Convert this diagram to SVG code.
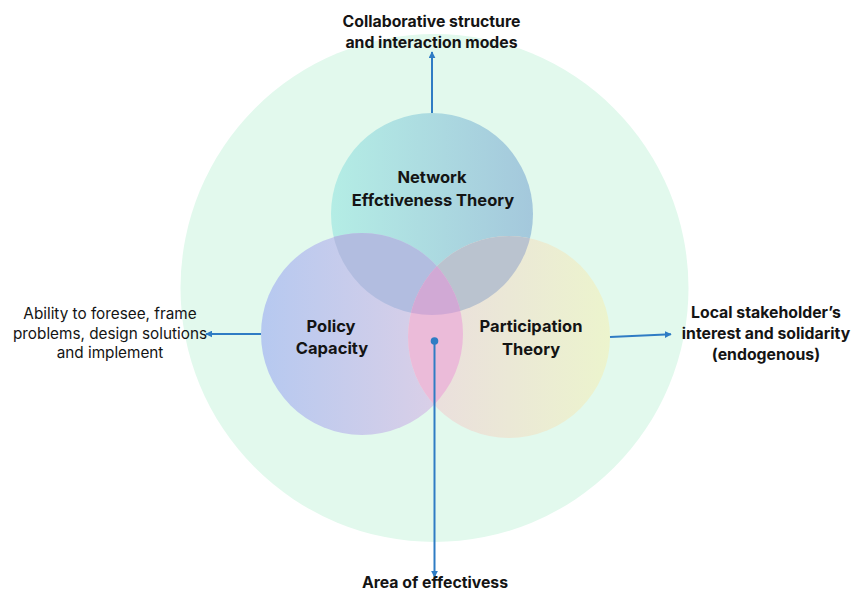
<svg xmlns="http://www.w3.org/2000/svg" width="852" height="593" viewBox="0 0 852 593">
  <style>
    .label { font-family: Inter, "Liberation Sans", sans-serif; fill: #141414; text-anchor: middle; }
    .bold { font-weight: 700; }
    .node { font-size: 16.5px; }
    .side { font-size: 15.8px; }
    .plain { font-weight: 400; font-size: 15.3px; }
    .link { stroke: #2f7cc4; stroke-width: 2; fill: none; }
  </style>
  <defs>
    <linearGradient id="gradTop" x1="0" y1="0" x2="1" y2="0">
      <stop offset="0" stop-color="#b4ede5"/>
      <stop offset="1" stop-color="#a4c8dc"/>
    </linearGradient>
    <linearGradient id="gradLeft" x1="0" y1="0" x2="1" y2="0">
      <stop offset="0" stop-color="#b6c9f0"/>
      <stop offset="1" stop-color="#dfd0e6"/>
    </linearGradient>
    <linearGradient id="gradRight" x1="0" y1="0" x2="1" y2="0">
      <stop offset="0" stop-color="#eadcdf"/>
      <stop offset="1" stop-color="#ecf4cd"/>
    </linearGradient>
    <clipPath id="clipTop"><circle cx="432" cy="214" r="101"/></clipPath>
    <clipPath id="clipLeft"><circle cx="362" cy="334" r="101"/></clipPath>
    <marker id="arrow" viewBox="0 0 10 10" refX="9" refY="5" markerWidth="7" markerHeight="7" orient="auto-start-reverse" markerUnits="userSpaceOnUse">
      <path d="M0,0 L10,5 L0,10 Z" fill="#2f7cc4"/>
    </marker>
  </defs>

  <rect width="852" height="593" fill="#ffffff"/>

  <!-- outer context circle -->
  <g id="context">
    <circle cx="434.5" cy="288" r="254" fill="#e2f9ed"/>
  </g>

  <!-- the three theory circles -->
  <g id="network-effectiveness">
    <circle cx="432" cy="214" r="101" fill="url(#gradTop)"/>
  </g>
  <g id="policy-capacity">
    <circle cx="362" cy="334" r="101" fill="url(#gradLeft)"/>
  </g>
  <g id="participation">
    <circle cx="509" cy="337" r="101" fill="url(#gradRight)"/>
  </g>

  <!-- overlap regions -->
  <g id="overlaps">
    <circle cx="362" cy="334" r="101" fill="#b2bde0" clip-path="url(#clipTop)"/>
    <circle cx="509" cy="337" r="101" fill="#bac3cf" clip-path="url(#clipTop)"/>
    <circle cx="509" cy="337" r="101" fill="#ebbbd9" clip-path="url(#clipLeft)"/>
    <g clip-path="url(#clipTop)">
      <circle cx="509" cy="337" r="101" fill="#d1a9d5" clip-path="url(#clipLeft)"/>
    </g>
  </g>

  <!-- connectors -->
  <g id="connectors">
    <line class="link" x1="432" y1="113" x2="432" y2="52" marker-end="url(#arrow)"/>
    <line class="link" x1="261" y1="334" x2="206" y2="334" marker-end="url(#arrow)"/>
    <line class="link" x1="610" y1="337" x2="671" y2="334.3" marker-end="url(#arrow)"/>
    <line class="link" x1="434.5" y1="341" x2="434.5" y2="577" marker-end="url(#arrow)"/>
    <circle cx="434.5" cy="341" r="3.8" fill="#2f7cc4"/>
  </g>

  <!-- labels -->
  <g id="label-network">
    <text class="label bold node" x="432" y="183">Network</text>
    <text class="label bold node" x="433" y="206">Effctiveness Theory</text>
  </g>
  <g id="label-policy">
    <text class="label bold node" x="331" y="332">Policy</text>
    <text class="label bold node" x="332" y="354">Capacity</text>
  </g>
  <g id="label-participation">
    <text class="label bold node" x="531" y="332">Participation</text>
    <text class="label bold node" x="531" y="355">Theory</text>
  </g>
  <g id="label-collaborative">
    <text class="label bold side" x="431.5" y="27">Collaborative structure</text>
    <text class="label bold side" x="431.5" y="48">and interaction modes</text>
  </g>
  <g id="label-ability">
    <text class="label plain" x="110" y="319">Ability to foresee, frame</text>
    <text class="label plain" x="110" y="338.5">problems, design solutions</text>
    <text class="label plain" x="110" y="358">and implement</text>
  </g>
  <g id="label-local">
    <text class="label bold side" x="766" y="318">Local stakeholder’s</text>
    <text class="label bold side" x="766" y="339">interest and solidarity</text>
    <text class="label bold side" x="766" y="360">(endogenous)</text>
  </g>
  <g id="label-area">
    <text class="label bold side" x="435" y="588">Area of effectivess</text>
  </g>
</svg>
